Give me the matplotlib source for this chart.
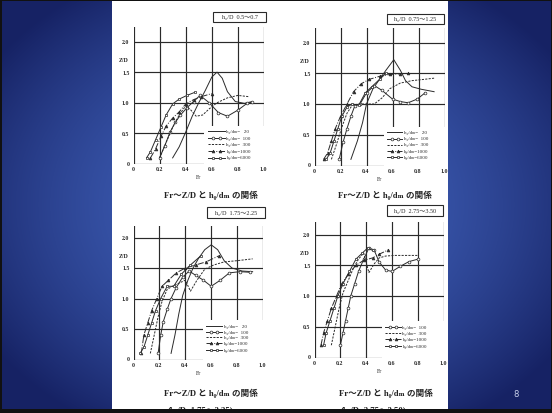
import numpy as np
import matplotlib
matplotlib.use("Agg")
import matplotlib.pyplot as plt
from matplotlib.patches import Rectangle

# ---------------- data ----------------
SERIES = ["20", "100", "300", "1000", "6000"]
LEGEND_LABELS = ["h₀/dₘ=   20", "h₀/dₘ=  100", "h₀/dₘ=  300", "h₀/dₘ=1000", "h₀/dₘ=6000"]
X_TICKS = [0, 0.2, 0.4, 0.6, 0.8, 1.0]
X_TICK_LABELS = ["0", "0.2", "0.4", "0.6", "0.8", "1.0"]
Y_TICKS = [0, 0.5, 1.0, 1.5, 2.0]
Y_TICK_LABELS = ["0", "0.5", "1.0", "1.5", "2.0"]
PANEL_TITLES = ["h₀/D  0.5～0.7", "h₀/D  0.75～1.25", "h₀/D  1.75～2.25", "h₀/D  2.75～3.50"]
CAPTION = "Fr～Z/D と h₀/dₘ の関係"
SUB_CAPTIONS = [None, None, "(h₀/D=1.75～2.25)", "(h₀/D=2.75～3.50)"]

# panel 1 : h0/D 0.5~0.7
P1_FR_20 = [0.30, 0.35, 0.40, 0.45, 0.50, 0.55, 0.60, 0.64, 0.68, 0.72, 0.78, 0.85, 0.91]
P1_ZD_20 = [0.10, 0.28, 0.52, 0.78, 1.00, 1.20, 1.42, 1.50, 1.40, 1.18, 1.02, 0.99, 1.02]
P1_FR_100 = [0.20, 0.24, 0.28, 0.32, 0.36, 0.41, 0.46, 0.51, 0.58, 0.65, 0.72, 0.80, 0.87, 0.91]
P1_ZD_100 = [0.10, 0.30, 0.52, 0.68, 0.80, 0.92, 1.02, 1.12, 1.00, 0.84, 0.78, 0.88, 0.99, 1.01]
P1_FR_300 = [0.20, 0.25, 0.30, 0.35, 0.40, 0.44, 0.48, 0.53, 0.58, 0.64, 0.72, 0.80, 0.88]
P1_ZD_300 = [0.10, 0.35, 0.60, 0.80, 0.95, 0.88, 0.78, 0.80, 0.90, 1.00, 1.08, 1.12, 1.10]
P1_FR_1000 = [0.13, 0.17, 0.21, 0.25, 0.30, 0.35, 0.40, 0.46, 0.52, 0.60]
P1_ZD_1000 = [0.10, 0.25, 0.45, 0.62, 0.75, 0.85, 0.98, 1.05, 1.10, 1.15]
P1_FR_6000 = [0.10, 0.13, 0.17, 0.21, 0.25, 0.30, 0.35, 0.41, 0.47]
P1_ZD_6000 = [0.10, 0.20, 0.40, 0.60, 0.80, 0.98, 1.06, 1.12, 1.17]

# panel 2 : h0/D 0.75~1.25
P2_FR_20 = [0.28, 0.33, 0.37, 0.40, 0.45, 0.50, 0.55, 0.61, 0.66, 0.70, 0.75, 0.82, 0.92]
P2_ZD_20 = [0.10, 0.40, 0.70, 1.00, 1.25, 1.40, 1.55, 1.72, 1.55, 1.38, 1.28, 1.24, 1.20]
P2_FR_100 = [0.19, 0.22, 0.25, 0.28, 0.31, 0.35, 0.40, 0.46, 0.52, 0.60, 0.66, 0.72, 0.79, 0.85]
P2_ZD_100 = [0.10, 0.38, 0.60, 0.80, 0.97, 1.00, 1.18, 1.30, 1.22, 1.08, 1.04, 1.02, 1.08, 1.18]
P2_FR_300 = [0.13, 0.17, 0.21, 0.25, 0.29, 0.34, 0.40, 0.46, 0.52, 0.58, 0.66, 0.75, 0.84, 0.92]
P2_ZD_300 = [0.10, 0.35, 0.62, 0.85, 0.98, 1.00, 1.00, 1.00, 1.10, 1.25, 1.34, 1.38, 1.40, 1.42]
P2_FR_1000 = [0.07, 0.10, 0.13, 0.16, 0.20, 0.25, 0.30, 0.36, 0.42, 0.50, 0.58, 0.66, 0.72]
P2_ZD_1000 = [0.10, 0.20, 0.40, 0.60, 0.80, 1.00, 1.20, 1.33, 1.40, 1.45, 1.48, 1.49, 1.50]
P2_FR_6000 = [0.09, 0.12, 0.15, 0.18, 0.21, 0.25, 0.29, 0.34, 0.39, 0.44, 0.50, 0.55]
P2_ZD_6000 = [0.10, 0.20, 0.40, 0.60, 0.80, 0.95, 1.00, 0.98, 1.18, 1.28, 1.40, 1.50]

# panel 3 : h0/D 1.75~2.25
P3_FR_20 = [0.29, 0.32, 0.35, 0.38, 0.42, 0.46, 0.50, 0.55, 0.60, 0.65, 0.70, 0.76, 0.84, 0.92]
P3_ZD_20 = [0.10, 0.40, 0.75, 1.05, 1.30, 1.50, 1.65, 1.80, 1.88, 1.80, 1.62, 1.50, 1.45, 1.44]
P3_FR_100 = [0.19, 0.21, 0.23, 0.26, 0.29, 0.33, 0.38, 0.43, 0.48, 0.54, 0.60, 0.67, 0.74, 0.82, 0.90]
P3_ZD_100 = [0.10, 0.40, 0.62, 0.82, 1.00, 1.18, 1.35, 1.45, 1.38, 1.30, 1.20, 1.30, 1.42, 1.44, 1.43]
P3_FR_300 = [0.13, 0.16, 0.19, 0.22, 0.26, 0.30, 0.35, 0.40, 0.44, 0.49, 0.55, 0.62, 0.70, 0.80, 0.92]
P3_ZD_300 = [0.10, 0.40, 0.70, 0.95, 1.15, 1.20, 1.25, 1.30, 1.12, 1.30, 1.48, 1.55, 1.60, 1.62, 1.65]
P3_FR_1000 = [0.06, 0.08, 0.11, 0.14, 0.18, 0.22, 0.27, 0.33, 0.40, 0.48, 0.56, 0.66]
P3_ZD_1000 = [0.10, 0.40, 0.60, 0.80, 1.00, 1.20, 1.30, 1.42, 1.50, 1.55, 1.60, 1.70]
P3_FR_6000 = [0.05, 0.08, 0.11, 0.14, 0.17, 0.21, 0.26, 0.31, 0.37, 0.44, 0.52]
P3_ZD_6000 = [0.10, 0.20, 0.40, 0.60, 0.80, 1.00, 1.20, 1.20, 1.40, 1.55, 1.70]

# panel 4 : h0/D 2.75~3.50 (no h0/dm=20 series)
P4_FR_100 = [0.20, 0.22, 0.24, 0.26, 0.28, 0.31, 0.34, 0.38, 0.42, 0.46, 0.50, 0.55, 0.60, 0.66, 0.73, 0.80]
P4_ZD_100 = [0.20, 0.40, 0.60, 0.80, 1.00, 1.20, 1.40, 1.60, 1.78, 1.75, 1.55, 1.42, 1.40, 1.48, 1.56, 1.60]
P4_FR_300 = [0.13, 0.16, 0.19, 0.22, 0.26, 0.30, 0.34, 0.38, 0.42, 0.46, 0.50, 0.55, 0.62, 0.70, 0.80]
P4_ZD_300 = [0.20, 0.50, 0.80, 1.05, 1.25, 1.45, 1.60, 1.70, 1.38, 1.52, 1.62, 1.65, 1.66, 1.66, 1.66]
P4_FR_1000 = [0.05, 0.07, 0.10, 0.13, 0.17, 0.21, 0.26, 0.32, 0.38, 0.45, 0.50, 0.57]
P4_ZD_1000 = [0.20, 0.40, 0.60, 0.80, 1.00, 1.20, 1.35, 1.50, 1.58, 1.62, 1.68, 1.75]
P4_FR_6000 = [0.07, 0.09, 0.12, 0.15, 0.18, 0.22, 0.27, 0.32, 0.37, 0.41, 0.45]
P4_ZD_6000 = [0.20, 0.40, 0.60, 0.80, 1.00, 1.20, 1.40, 1.60, 1.70, 1.78, 1.74]

PANEL_DATA = [
    {"20": (P1_FR_20, P1_ZD_20), "100": (P1_FR_100, P1_ZD_100), "300": (P1_FR_300, P1_ZD_300),
     "1000": (P1_FR_1000, P1_ZD_1000), "6000": (P1_FR_6000, P1_ZD_6000)},
    {"20": (P2_FR_20, P2_ZD_20), "100": (P2_FR_100, P2_ZD_100), "300": (P2_FR_300, P2_ZD_300),
     "1000": (P2_FR_1000, P2_ZD_1000), "6000": (P2_FR_6000, P2_ZD_6000)},
    {"20": (P3_FR_20, P3_ZD_20), "100": (P3_FR_100, P3_ZD_100), "300": (P3_FR_300, P3_ZD_300),
     "1000": (P3_FR_1000, P3_ZD_1000), "6000": (P3_FR_6000, P3_ZD_6000)},
    {"100": (P4_FR_100, P4_ZD_100), "300": (P4_FR_300, P4_ZD_300),
     "1000": (P4_FR_1000, P4_ZD_1000), "6000": (P4_FR_6000, P4_ZD_6000)},
]

# ---------------- styling / layout ----------------
W, H = 552, 414
INK = "#2a2a2a"
SERIF = ["Liberation Serif", "DejaVu Serif", "Noto Sans CJK JP"]

STYLE = {
    "20": dict(ls="-", marker=None),
    "100": dict(ls="-", marker="o", mfc="white"),
    "300": dict(ls=(0, (2.2, 1.3)), marker=None),
    "1000": dict(ls="-.", marker="^", mfc=INK),
    "6000": dict(ls="-", marker="s", mfc="white"),
}

# panel geometry in pixels: x(Fr=0), x(Fr=1), y(Z/D=0), y(Z/D=2), top in data units
GEOM = [
    (133.5, 264.0, 165.0, 42.5, 2.24),
    (314.5, 444.5, 166.5, 43.5, 2.24),
    (133.5, 263.0, 360.5, 238.5, 2.19),
    (314.5, 444.0, 358.5, 235.5, 2.21),
]
TITLE_BOX = [(213, 12.5, 53, 10.5), (386.5, 14.5, 57, 10.5), (207, 208, 58, 10.5), (387, 206, 56, 10.5)]
CAPTION_POS = [(211, 195), (385, 195), (211, 393), (386, 393)]
SUBCAP_POS = [None, None, (200, 411), (373, 411)]
LEGEND_BOX = [(204, 127, 64, 40), (384, 128, 64, 41), (203, 321, 63, 41), (382, 322, 64, 39)]
LEGEND_ROWS = [
    [132.0, 138.8, 145.0, 151.8, 158.5],
    [133.0, 139.5, 145.5, 152.0, 158.3],
    [326.7, 332.7, 338.3, 344.3, 350.7],
    [327.7, 334.3, 340.0, 346.7],
]
LEGEND_LINE_X = [(208, 225), (387, 402), (206, 222), (385, 401)]
MS = 2.0

fig = plt.figure(figsize=(W / 100, H / 100), dpi=100)

# background slide (pixel coordinate axes)
bg = fig.add_axes([0, 0, 1, 1])
bg.set_xlim(0, W)
bg.set_ylim(H, 0)
bg.axis("off")
yy, xx = np.mgrid[0:H, 0:W]
d = np.sqrt(((xx - 276) / 340.0) ** 2 + ((yy - 205) / 260.0) ** 2)
t = np.clip(d, 0, 1) ** 1.7
c_in = np.array([66, 100, 190]) / 255.0
c_out = np.array([22, 34, 100]) / 255.0
img = c_in[None, None, :] * (1 - t[..., None]) + c_out[None, None, :] * t[..., None]
bg.imshow(img, extent=(0, W, H, 0), aspect="auto", zorder=0, interpolation="bilinear")
bg.add_patch(Rectangle((112, 0), 336, H, fc="white", ec="none", zorder=1))
# frame
bg.add_patch(Rectangle((0, 0), W, 1.5, fc="#111111", ec="none", zorder=20))
bg.add_patch(Rectangle((0, 0), 1.5, H, fc="#111111", ec="none", zorder=20))
bg.add_patch(Rectangle((W - 1.5, 0), 1.5, H, fc="#111111", ec="none", zorder=20))
bg.add_patch(Rectangle((0, 410), W, 4, fc="#111111", ec="none", zorder=20))
bg.text(516, 395, "8", color="#c8d0ea", fontsize=6, ha="center", va="center",
        family=["DejaVu Sans"], zorder=5)

for k in range(4):
    x0, x1, y0, y2, ytop = GEOM[k]
    sy = (y0 - y2) / 2.0
    top_px = y0 - ytop * sy
    ax = fig.add_axes([x0 / W, 1 - y0 / H, (x1 - x0) / W, (y0 - top_px) / H])
    ax.set_xlim(0, 1.0)
    ax.set_ylim(0, ytop)
    ax.patch.set_alpha(0)
    for s in ax.spines.values():
        s.set_visible(False)
    ax.set_xticks([])
    ax.set_yticks([])
    for v in X_TICKS:
        ax.axvline(v, color=INK, lw=0.85, zorder=1)
    for h in Y_TICKS:
        ax.axhline(h, color=INK, lw=0.85, zorder=1)

    for key, (fr, zd) in PANEL_DATA[k].items():
        st = STYLE[key]
        ax.plot(fr, zd, color=INK, lw=0.7, ls=st["ls"], marker=st["marker"],
                ms=MS, mew=0.5, mfc=st.get("mfc", INK), mec=INK, zorder=3, clip_on=False)

    # legend drawn in pixel coordinates on top of the grid
    T = bg.transData
    lx, ly, lw_, lh = LEGEND_BOX[k]
    ax.add_patch(Rectangle((lx, ly), lw_, lh, transform=T, fc="white", ec="none",
                           zorder=5, clip_on=False))
    keys = list(PANEL_DATA[k].keys())
    a, b = LEGEND_LINE_X[k]
    for i, key in enumerate(keys):
        st = STYLE[key]
        ry = LEGEND_ROWS[k][i]
        ax.plot([a, b], [ry, ry], transform=T, color=INK, lw=0.7, ls=st["ls"],
                zorder=6, clip_on=False)
        if st["marker"]:
            ax.plot([a + (b - a) * 0.3, a + (b - a) * 0.7], [ry, ry], transform=T, ls="none",
                    marker=st["marker"], ms=MS, mew=0.5, mfc=st.get("mfc", INK), mec=INK,
                    zorder=7, clip_on=False)
        lab = LEGEND_LABELS[SERIES.index(key)]
        ax.text(b + 1.5, ry, lab, transform=T, fontsize=3.6, family=SERIF, color=INK,
                ha="left", va="center", zorder=7, clip_on=False)

    # tick labels
    for v, s in zip(X_TICKS, X_TICK_LABELS):
        px = x0 + v * (x1 - x0)
        bg.text(px - 0.5, y0 + 4.8, s, fontsize=4.2, family=SERIF, color=INK,
                ha="center", va="center", weight="bold", zorder=5)
    for v, s in zip(Y_TICKS, Y_TICK_LABELS):
        py = y0 - v * sy
        if v == 0:
            bg.text(x0 - 5.5, py - 0.5, s, fontsize=4.2, family=SERIF, color=INK,
                    ha="center", va="center", weight="bold", zorder=5)
        else:
            bg.text(x0 - 4, py, s, fontsize=4.2, family=SERIF, color=INK,
                    ha="right", va="center", weight="bold", zorder=5)
    bg.text(x0 - 10, y0 - 1.7 * sy, "Z/D", fontsize=4.2, family=SERIF, color=INK,
            ha="center", va="center", weight="bold", zorder=5)
    bg.text(x0 + 0.5 * (x1 - x0), y0 + 13, "Fr", fontsize=4.2, family=SERIF, color=INK,
            ha="center", va="center", zorder=5)

    # title box
    bx, by, bw, bh = TITLE_BOX[k]
    bg.add_patch(Rectangle((bx, by), bw, bh, fc="white", ec=INK, lw=0.8, zorder=5))
    bg.text(bx + bw / 2, by + bh / 2, PANEL_TITLES[k], fontsize=4.4, family=SERIF,
            color=INK, ha="center", va="center", zorder=6)

    # captions
    cx, cy = CAPTION_POS[k]
    bg.text(cx, cy, CAPTION, fontsize=6.2, family=SERIF, weight="bold", color="#222222",
            ha="center", va="center", zorder=5)
    if SUB_CAPTIONS[k]:
        sx, syy = SUBCAP_POS[k]
        bg.text(sx, syy, SUB_CAPTIONS[k], fontsize=6.2, family=SERIF, weight="bold",
                color="#222222", ha="center", va="center", zorder=5)

fig.savefig("out.png", dpi=100)
